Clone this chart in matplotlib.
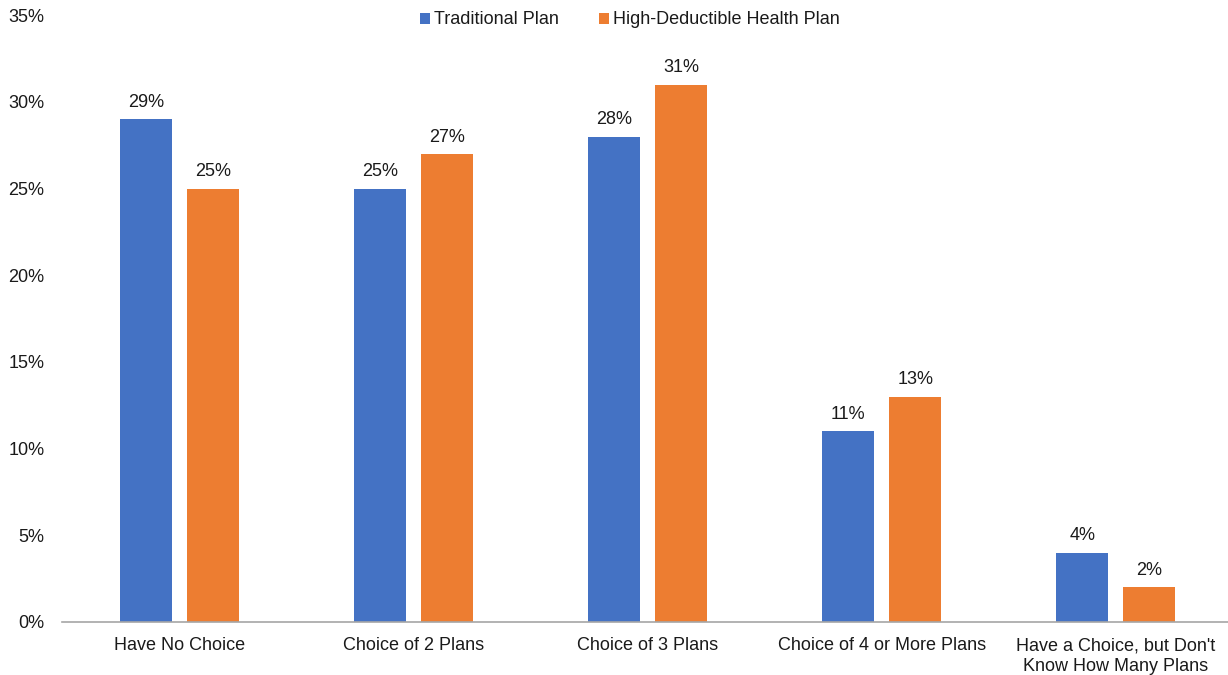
import matplotlib
matplotlib.use("Agg")
import matplotlib.pyplot as plt
import numpy as np

categories = ["Have No Choice", "Choice of 2 Plans", "Choice of 3 Plans",
              "Choice of 4 or More Plans", "Have a Choice, but Don't\nKnow How Many Plans"]
traditional = [29, 25, 28, 11, 4]
hdhp = [25, 27, 31, 13, 2]
series_names = ["Traditional Plan", "High-Deductible Health Plan"]
yticks = [0, 5, 10, 15, 20, 25, 30, 35]

plt.rcParams['font.family'] = ['Liberation Sans', 'DejaVu Sans']
fs = 13
txt = '#1a1a1a'

fig = plt.figure(figsize=(12.28, 6.75), dpi=100)
ax = fig.add_axes([62.5/1228, 1-622/675, (1233-62.5)/1228, (622-15.3)/675])
ax.patch.set_visible(False)

x = np.arange(len(categories))
w = 0.222
off = 0.143
b1 = ax.bar(x - off, traditional, w, color='#4472C4', label=series_names[0], zorder=2)
b2 = ax.bar(x + off, hdhp, w, color='#ED7D31', label=series_names[1], zorder=2)
for bars in (b1, b2):
    ax.bar_label(bars, labels=[f"{v:.0f}%" for v in bars.datavalues], padding=6,
                 fontsize=fs, color=txt)

ax.set_xlim(-0.5, 4.5)
ax.set_ylim(0, 35)
ax.set_yticks(yticks)
ax.set_yticklabels([f"{v}%" for v in yticks], fontsize=fs, color=txt)
ax.set_xticks(x)
ax.set_xticklabels(categories, fontsize=fs, color=txt, linespacing=1.25)
ax.tick_params(axis='y', length=0, pad=13)
ax.tick_params(axis='x', length=0, pad=11)
for s in ['top', 'right', 'left']:
    ax.spines[s].set_visible(False)
ax.spines['bottom'].set_color('#A6A6A6')
ax.spines['bottom'].set_linewidth(1.2)

leg = fig.legend(loc='center', bbox_to_anchor=(630/1228, 1-20/675), ncol=2, frameon=False,
                 fontsize=fs, handlelength=0.55, handleheight=0.55, handletextpad=0.25,
                 columnspacing=2.2)
for t in leg.get_texts():
    t.set_color(txt)

fig.savefig("out.png", dpi=100)
